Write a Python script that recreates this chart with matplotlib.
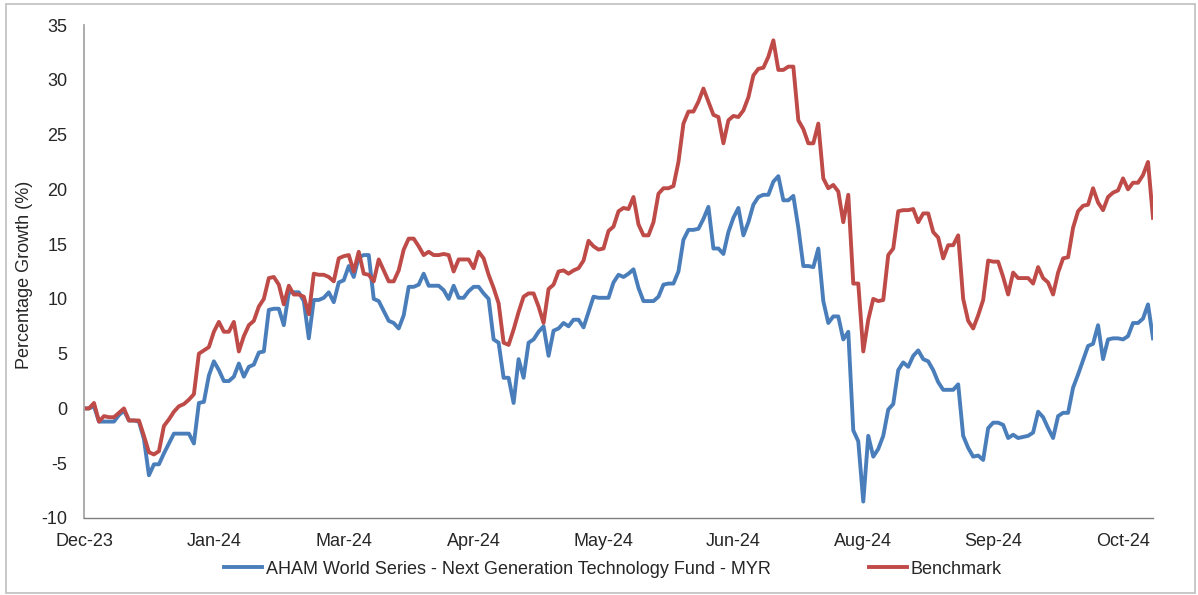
import matplotlib
matplotlib.use("Agg")
import matplotlib.pyplot as plt
import numpy as np
from matplotlib.patches import Rectangle

plt.rcParams['font.family'] = ['Liberation Sans', 'DejaVu Sans']
plt.rcParams['axes.unicode_minus'] = False

tick_labels = ["Dec-23", "Jan-24", "Mar-24", "Apr-24", "May-24",
               "Jun-24", "Aug-24", "Sep-24", "Oct-24"]
tick_step = 26  # observations between labelled ticks

fund = [
    0, 0, 0.2, -1.2, -1.2, -1.2, -1.2, -0.6, -0.2, -1.1,
    -1.1, -1.2, -2.8, -6.1, -5.1, -5.1, -4.1, -3.2, -2.3, -2.3,
    -2.3, -2.3, -3.2, 0.5, 0.6, 3.0, 4.3, 3.5, 2.5, 2.5,
    2.9, 4.1, 2.9, 3.8, 4.0, 5.1, 5.2,
    9.0, 9.1, 9.1, 7.6, 10.6, 10.6, 10.6, 9.8, 6.4, 9.9,
    9.9, 10.1, 10.6, 9.7, 11.5, 11.7, 13.0, 12.0, 13.8, 14.0,
    14.0, 10.0, 9.8, 8.9, 8.0, 7.8, 7.3, 8.5, 11.1, 11.1,
    11.3, 12.3, 11.2, 11.2, 11.2, 10.8,
    10.0, 11.2, 10.1, 10.1, 10.7, 11.1, 11.1, 10.5, 10.0, 6.3,
    6.0, 2.8, 2.8, 0.5, 4.5, 2.8, 6.0, 6.3, 7.0, 7.5,
    4.8, 7.1, 7.3, 7.8, 7.5, 8.1, 8.1, 7.4, 8.8, 10.2,
    10.1, 10.1, 10.1, 11.5, 12.2, 12.0,
    12.3, 12.7, 11.0, 9.8, 9.8, 9.8, 10.2, 11.3, 11.4, 11.4,
    12.5, 15.4, 16.3, 16.3, 16.4, 17.3, 18.4, 14.6, 14.6, 14.1,
    16.1, 17.4, 18.3, 15.8, 17.0, 18.6, 19.3, 19.5, 19.5, 20.7,
    21.2, 19.0, 19.0, 19.4, 16.5, 13.0,
    13.0, 12.9, 14.6, 9.8, 7.8, 8.4, 8.4, 6.3, 7.0, -2.0,
    -3.0, -8.5, -2.5, -4.4, -3.7, -2.5, -0.1, 0.4, 3.5, 4.2,
    3.8, 4.8, 5.3, 4.5, 4.3, 3.5, 2.4, 1.7, 1.7, 1.7,
    2.2, -2.5, -3.6, -4.4, -4.3, -4.7,
    -1.8, -1.3, -1.3, -1.5, -2.7, -2.4, -2.7, -2.6, -2.5, -2.2,
    -0.3, -0.8, -1.8, -2.7, -0.7, -0.4, -0.4, 1.9, 3.1, 4.4,
    5.7, 5.9, 7.6, 4.5, 6.3, 6.4, 6.4, 6.3, 6.6, 7.8,
    7.8, 8.2, 9.5, 6.4,
]

benchmark = [
    0, 0, 0.5, -1.2, -0.7, -0.8, -0.8, -0.4, 0, -1.1,
    -1.1, -1.1, -2.5, -4.0, -4.2, -3.9, -1.6, -1.0, -0.3, 0.2,
    0.4, 0.8, 1.3, 5.0, 5.3, 5.6, 7.0, 7.9, 7.0, 7.0,
    7.9, 5.2, 6.6, 7.6, 8.0, 9.3, 10.0,
    11.9, 12.0, 11.3, 9.5, 11.2, 10.4, 10.4, 10.2, 8.6, 12.3,
    12.2, 12.2, 12.0, 11.6, 13.7, 13.9, 14.0, 12.5, 14.3, 12.3,
    12.2, 11.6, 13.6, 12.6, 11.6, 11.6, 12.6, 14.5, 15.5, 15.5,
    14.8, 14.0, 14.3, 14.0, 14.0, 14.1,
    14.0, 12.5, 13.6, 13.6, 13.6, 12.8, 14.3, 13.7, 12.2, 11.0,
    9.6, 6.0, 5.8, 7.2, 8.8, 10.2, 10.5, 10.5, 9.3, 7.8,
    10.9, 11.3, 12.5, 12.6, 12.3, 12.6, 12.8, 13.5, 15.3, 14.8,
    14.5, 14.6, 16.2, 16.6, 18.0, 18.3,
    18.2, 19.3, 16.8, 15.8, 15.8, 17.0, 19.6, 20.1, 20.1, 20.3,
    22.5, 26.0, 27.1, 27.1, 28.0, 29.2, 28.0, 26.8, 26.6, 24.2,
    26.3, 26.7, 26.6, 27.2, 28.4, 30.4, 31.0, 31.1, 32.1, 33.6,
    30.9, 30.9, 31.2, 31.2, 26.3, 25.5,
    24.2, 24.2, 26.0, 21.0, 20.1, 20.4, 19.8, 17.0, 19.5, 11.4,
    11.4, 5.2, 8.1, 10.0, 9.8, 9.9, 14.0, 14.6, 18.0, 18.1,
    18.1, 18.2, 17.0, 17.8, 17.8, 16.1, 15.6, 13.7, 14.9, 14.9,
    15.8, 10.0, 8.0, 7.3, 8.5, 9.9,
    13.5, 13.4, 13.4, 12.0, 10.4, 12.4, 11.9, 11.9, 11.9, 11.4,
    12.9, 11.9, 11.5, 10.4, 12.4, 13.7, 13.8, 16.5, 18.0, 18.5,
    18.6, 20.1, 18.8, 18.1, 19.3, 19.7, 19.9, 21.0, 20.0, 20.6,
    20.6, 21.3, 22.5, 17.4,
]

series_names = ["AHAM World Series - Next Generation Technology Fund - MYR", "Benchmark"]

W, H = 1198, 595
FS = 13
fig = plt.figure(figsize=(W / 100, H / 100), dpi=100)
ax = fig.add_axes([84 / W, 1 - 518 / H, (1153 - 84) / W, (518 - 25) / H])

x = np.arange(len(fund))
ax.plot(x, fund, color="#4A7EBB", lw=2.8, label=series_names[0], solid_joinstyle="round")
ax.plot(x, benchmark, color="#BE4B48", lw=2.8, label=series_names[1], solid_joinstyle="round")

ax.set_xlim(0, len(fund) - 1)
ax.set_ylim(-10, 35)
ax.set_yticks(np.arange(-10, 36, 5))
ax.set_xticks(np.arange(len(tick_labels)) * tick_step)
ax.set_xticklabels(tick_labels)

for s in ["top", "right"]:
    ax.spines[s].set_visible(False)
ax.spines["left"].set_color("#A6A6A6")
ax.spines["left"].set_linewidth(1.3)
ax.spines["bottom"].set_color("#7F7F7F")
ax.spines["bottom"].set_linewidth(1.0)
ax.tick_params(axis="both", length=0, labelsize=FS, colors="#262626")
ax.tick_params(axis="y", pad=12)
ax.tick_params(axis="x", pad=11)

fig.text(25 / W, 1 - 275 / H, "Percentage Growth (%)", rotation=90,
         ha="center", va="center", fontsize=FS, color="#262626")

leg = fig.legend(loc="center", bbox_to_anchor=(613 / W, 1 - 569 / H), ncol=2,
                 frameon=False, fontsize=FS, handlelength=2.1, handletextpad=0.22,
                 columnspacing=5.4, borderaxespad=0)
for t in leg.get_texts():
    t.set_color("#262626")

fig.patches.append(Rectangle((6 / W, 1 - 593 / H), (1195 - 6) / W, (593 - 4) / H,
                             transform=fig.transFigure, fill=False,
                             edgecolor="#BFBFBF", lw=1.2))

fig.savefig("out.png", dpi=100)
